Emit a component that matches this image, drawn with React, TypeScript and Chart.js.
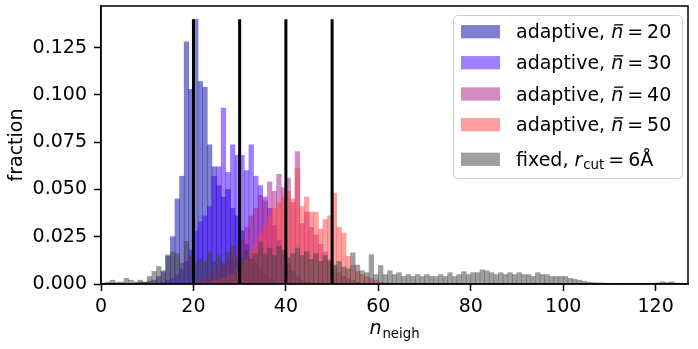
import React, { useEffect, useRef } from "react";
import { Chart, registerables } from "chart.js";

Chart.register(...registerables);

// ---------------- data ----------------
const xTicks = [0, 20, 40, 60, 80, 100, 120];
const yTicks = [0, 0.025, 0.05, 0.075, 0.1, 0.125];
const nBarValues = [20, 30, 40, 50]; // target n̄ (also vertical marker positions)
const vlineTop = 0.14;

// histogram bins of width 1; each array starts at its *Start bin edge
const adaptive20Start = 7;
const adaptive20 = [
  0.0005, 0.001, 0.001, 0.0015, 0.002, 0.004, 0.007, 0.0146, 0.025, 0.045,
  0.057, 0.128, 0.103, 0.14, 0.107, 0.104, 0.0736, 0.062, 0.052, 0.046,
  0.05, 0.04, 0.036, 0.028, 0.021, 0.016, 0.011, 0.008, 0.005, 0.003,
  0.002, 0.001, 0.0005,
];

const adaptive30Start = 12;
const adaptive30 = [
  0.0005, 0.001, 0.002, 0.003, 0.005, 0.008, 0.012, 0.018, 0.028, 0.033,
  0.036, 0.041, 0.057, 0.062, 0.093, 0.059, 0.0736, 0.068, 0.068, 0.06,
  0.0736, 0.057, 0.052, 0.046, 0.04, 0.031, 0.023, 0.016, 0.011, 0.007,
  0.004, 0.002, 0.001, 0.0005,
];

const adaptive40Start = 20;
const adaptive40 = [
  0.001, 0.002, 0.003, 0.004, 0.006, 0.008, 0.01, 0.013, 0.016, 0.02,
  0.024, 0.03, 0.036, 0.04, 0.047, 0.044, 0.054, 0.049, 0.058, 0.051,
  0.056, 0.043, 0.07, 0.032, 0.038, 0.03, 0.026, 0.021, 0.017, 0.013,
  0.009, 0.006, 0.004, 0.003, 0.002, 0.001,
];

const adaptive50Start = 22;
const adaptive50 = [
  0.001, 0.001, 0.002, 0.002, 0.003, 0.004, 0.005, 0.007, 0.01, 0.013,
  0.017, 0.021, 0.026, 0.031, 0.036, 0.04, 0.043, 0.046, 0.049, 0.045,
  0.061, 0.041, 0.046, 0.038, 0.038, 0.029, 0.034, 0.036, 0.048, 0.03,
  0.027, 0.0146, 0.01, 0.0067, 0.005, 0.004, 0.003, 0.002, 0.001, 0.0005,
];

const fixedStart = 1;
const fixed6A = [
  0.001, 0.002, 0.001, 0.001, 0.003, 0.002, 0.001, 0.002, 0.001, 0.004,
  0.0067, 0.0093, 0.006, 0.0155, 0.017, 0.016, 0.011, 0.0225, 0.015, 0.011,
  0.013, 0.012, 0.017, 0.012, 0.015, 0.011, 0.017, 0.02, 0.014, 0.014,
  0.018, 0.013, 0.016, 0.022, 0.016, 0.019, 0.015, 0.02, 0.018, 0.014,
  0.016, 0.019, 0.015, 0.017, 0.013, 0.016, 0.012, 0.015, 0.012, 0.01,
  0.012, 0.009, 0.008, 0.0165, 0.01, 0.007, 0.006, 0.0155, 0.005, 0.0098,
  0.005, 0.007, 0.005, 0.006, 0.004, 0.005, 0.004, 0.005, 0.004, 0.005,
  0.004, 0.004, 0.005, 0.004, 0.006, 0.004, 0.005, 0.0065, 0.005, 0.006,
  0.006, 0.0075, 0.007, 0.006, 0.005, 0.006, 0.005, 0.006, 0.005, 0.006,
  0.005, 0.005, 0.004, 0.006, 0.005, 0.005, 0.004, 0.004, 0.004, 0.004,
  0.003, 0.0025, 0.002, 0.0015, 0.001, 0.0008, 0.0006, 0.0005, 0.0004, 0.0004,
  0.0003, 0.0003, 0.0002, 0.0002, 0.0002, 0.0003, 0.0003, 0.0002, 0.0004, 0.0006,
  0.0012, 0.0008, 0.0012, 0.0005, 0.0004,
];

const seriesColors = [
  "rgba(0,0,160,0.5)",
  "rgba(64,0,255,0.5)",
  "rgba(165,25,135,0.5)",
  "rgba(255,64,64,0.5)",
  "rgba(64,64,64,0.5)",
];
const fixedCutoff = "6Å";

const FONT = '"DejaVu Sans", sans-serif';
const FS = 19;

function toPoints(start: number, vals: number[]) {
  return vals.map((v, i) => ({ x: start + i + 0.5, y: v }));
}

const decorPlugin = {
  id: "decor",
  afterDraw(chart: any) {
    const ctx = chart.ctx as CanvasRenderingContext2D;
    const a = chart.chartArea;
    ctx.save();
    // frame (top/right spines)
    ctx.strokeStyle = "#000";
    ctx.lineWidth = 1.5;
    ctx.strokeRect(a.left, a.top, a.right - a.left, a.bottom - a.top);

    ctx.fillStyle = "#000";
    ctx.textBaseline = "alphabetic";
    // y title
    ctx.save();
    ctx.translate(22, (a.top + a.bottom) / 2);
    ctx.rotate(-Math.PI / 2);
    ctx.textAlign = "center";
    ctx.font = `${FS}px ${FONT}`;
    ctx.fillText("fraction", 0, 0);
    ctx.restore();

    // x title n_neigh
    ctx.textAlign = "left";
    ctx.font = `italic ${FS}px ${FONT}`;
    const nW = ctx.measureText("n").width;
    ctx.font = `${FS * 0.7}px ${FONT}`;
    const subW = ctx.measureText("neigh").width;
    const total = nW + 1 + subW;
    const cx = (a.left + a.right) / 2;
    const x0 = cx - total / 2;
    const xb = 334;
    ctx.font = `italic ${FS}px ${FONT}`;
    ctx.fillText("n", x0, xb);
    ctx.font = `${FS * 0.7}px ${FONT}`;
    ctx.fillText("neigh", x0 + nW + 1, xb + 4);

    // legend
    const lx = 453.5, ly = 15.5, lw = 229, lh = 163;
    ctx.beginPath();
    (ctx as any).roundRect(lx, ly, lw, lh, 4);
    ctx.fillStyle = "rgba(255,255,255,0.8)";
    ctx.fill();
    ctx.strokeStyle = "#cccccc";
    ctx.lineWidth = 1;
    ctx.stroke();

    const rows = [31.7, 62.7, 94, 124.7, 159.3];
    const textX = 516;
    rows.forEach((c, i) => {
      ctx.fillStyle = seriesColors[i];
      ctx.fillRect(461, c - 6.65, 39, 13.3);
      ctx.fillStyle = "#000";
      if (i < 4) {
        const b = c + 6.7;
        let x = textX;
        ctx.font = `${FS}px ${FONT}`;
        ctx.fillText("adaptive, ", x, b);
        x += ctx.measureText("adaptive, ").width;
        ctx.font = `italic ${FS}px ${FONT}`;
        ctx.fillText("n", x, b);
        const w = ctx.measureText("n").width;
        ctx.fillRect(x + 3, b - 14.2, w - 3, 1.3);
        x += w + 4;
        ctx.font = `${FS}px ${FONT}`;
        ctx.fillText("=", x, b);
        x += ctx.measureText("=").width + 4;
        ctx.fillText(String(nBarValues[i]), x, b);
      } else {
        const b = c + 6.4;
        let x = textX;
        ctx.font = `${FS}px ${FONT}`;
        ctx.fillText("fixed, ", x, b);
        x += ctx.measureText("fixed, ").width;
        ctx.font = `italic ${FS}px ${FONT}`;
        ctx.fillText("r", x, b);
        x += ctx.measureText("r").width + 1;
        ctx.font = `${FS * 0.7}px ${FONT}`;
        ctx.fillText("cut", x, b + 3);
        x += ctx.measureText("cut").width + 4;
        ctx.font = `${FS}px ${FONT}`;
        ctx.fillText("=", x, b);
        x += ctx.measureText("=").width + 4;
        ctx.fillText(fixedCutoff, x, b);
      }
    });
    ctx.restore();
  },
};

export default function App() {
  const ref = useRef<HTMLCanvasElement>(null);
  useEffect(() => {
    if (!ref.current) return;
    const bar = (label: string, start: number, vals: number[], color: string, order: number) => ({
      type: "bar" as const,
      label,
      data: toPoints(start, vals),
      backgroundColor: color,
      borderWidth: 0,
      grouped: false,
      barPercentage: 1,
      categoryPercentage: 1,
      order,
    });
    const datasets: any[] = [
      bar("adaptive, n̄ = 20", adaptive20Start, adaptive20, seriesColors[0], 5),
      bar("adaptive, n̄ = 30", adaptive30Start, adaptive30, seriesColors[1], 4),
      bar("adaptive, n̄ = 40", adaptive40Start, adaptive40, seriesColors[2], 3),
      bar("adaptive, n̄ = 50", adaptive50Start, adaptive50, seriesColors[3], 2),
      bar("fixed, r_cut = 6Å", fixedStart, fixed6A, seriesColors[4], 1),
      ...nBarValues.map((n) => ({
        type: "line" as const,
        label: "n" + n,
        data: [
          { x: n, y: 0 },
          { x: n, y: vlineTop },
        ],
        borderColor: "#000",
        borderWidth: 3,
        pointRadius: 0,
        borderCapStyle: "butt",
        order: 0,
      })),
    ];
    const chart = new Chart(ref.current, {
      type: "bar",
      data: { datasets },
      options: {
        animation: false,
        responsive: false,
        devicePixelRatio: 1,
        layout: { padding: { top: 6, right: 10, left: 0, bottom: 0 } },
        plugins: { legend: { display: false }, tooltip: { enabled: false } },
        scales: {
          x: {
            type: "linear",
            min: 0,
            max: 127,
            offset: false,
            grid: {
              display: true,
              drawOnChartArea: false,
              drawTicks: true,
              tickLength: 7,
              tickWidth: 1.5,
              tickColor: "#000",
              offset: false,
            },
            border: { display: true, color: "#000", width: 1.5 },
            ticks: {
              font: { family: FONT, size: FS },
              color: "#000",
              padding: 5,
              maxRotation: 0,
              autoSkip: false,
            },
            afterBuildTicks: (s: any) => {
              s.ticks = xTicks.map((v) => ({ value: v }));
            },
            afterFit: (s: any) => {
              s.height = 65;
              s.paddingLeft = 0;
              s.paddingRight = 0;
            },
          },
          y: {
            type: "linear",
            min: 0,
            max: 0.147,
            grid: {
              display: true,
              drawOnChartArea: false,
              drawTicks: true,
              tickLength: 7,
              tickWidth: 1.5,
              tickColor: "#000",
            },
            border: { display: true, color: "#000", width: 1.5 },
            ticks: {
              font: { family: FONT, size: FS },
              color: "#000",
              padding: 7,
              callback: (v: any) => Number(v).toFixed(3),
            },
            afterBuildTicks: (s: any) => {
              s.ticks = yTicks.map((v) => ({ value: v }));
            },
            afterFit: (s: any) => {
              s.width = 101;
              s.paddingTop = 0;
              s.paddingBottom = 0;
            },
          },
        },
      } as any,
      plugins: [decorPlugin],
    });
    return () => chart.destroy();
  }, []);
  return (
    <div style={{ position: "fixed", left: 0, top: 0, width: 698, height: 349, background: "#fff" }}>
      <canvas ref={ref} width={698} height={349} style={{ display: "block" }} />
    </div>
  );
}
